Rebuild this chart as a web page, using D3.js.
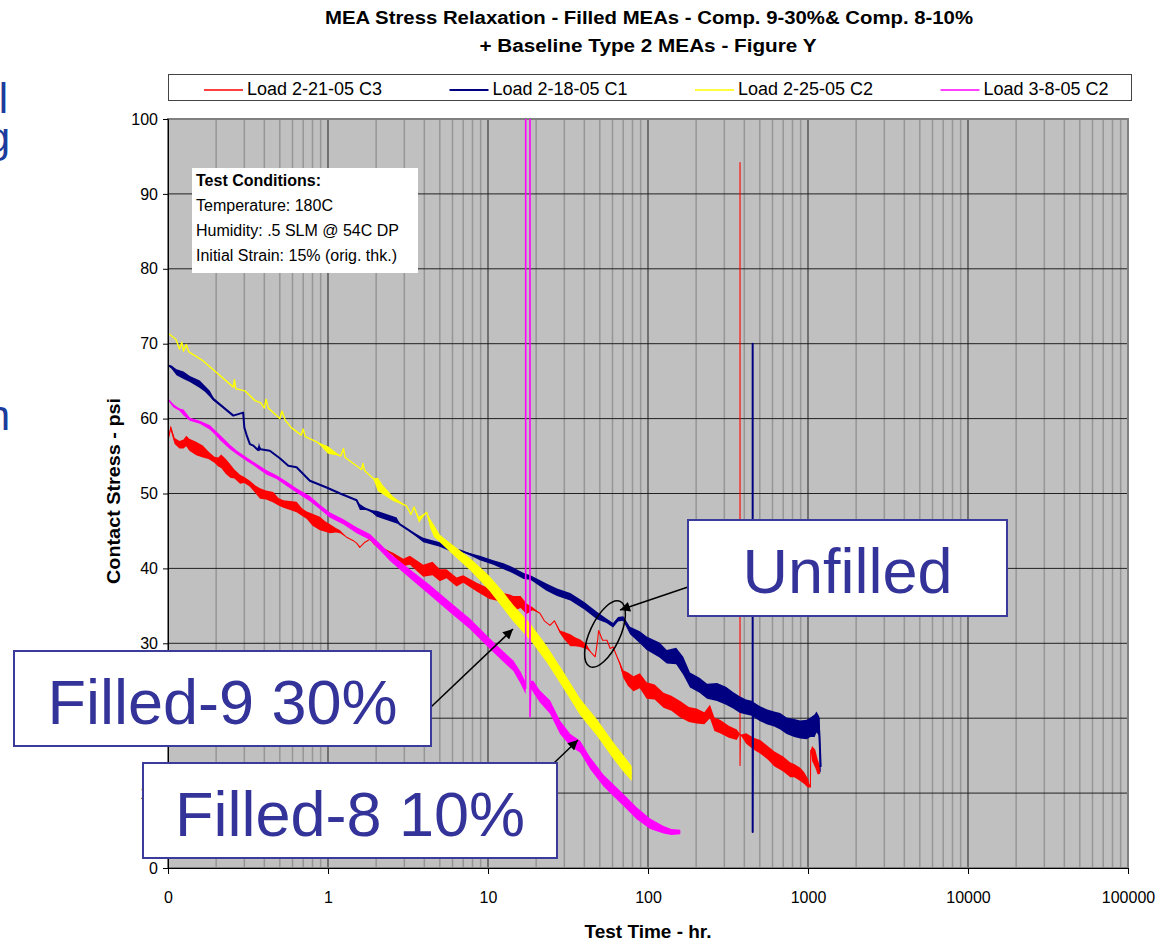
<!DOCTYPE html>
<html>
<head>
<meta charset="utf-8">
<script src="https://cdn.jsdelivr.net/npm/d3@7"></script>
<style>
  body { margin: 0; background: #fff; }
  svg { font-family: "Liberation Sans", Arial, sans-serif; }
</style>
</head>
<body>
<svg id="chart" width="1171" height="940"></svg>
<script>
// [time hr, contact stress psi, noise half-width psi]
var load22105C3 = [
  [0.1, 59.3, 0], [0.101, 57.5, 0], [0.104, 58.8, 0.3], [0.11, 57.0, 0.4], [0.118, 56.5, 0.5],
  [0.125, 56.6, 0.6], [0.13, 57.0, 0.7], [0.136, 56.5, 0.8], [0.15, 56.0, 0.9], [0.165, 55.6, 0.8],
  [0.179, 55.1, 0.5], [0.195, 54.5, 0.4], [0.206, 54.2, 0.6], [0.215, 54.3, 0.9], [0.23, 53.6, 1.0],
  [0.245, 53.0, 0.9], [0.26, 52.6, 0.6], [0.282, 51.9, 0.6], [0.3, 51.8, 0.4], [0.325, 51.3, 0.4],
  [0.35, 50.6, 0.5], [0.376, 50.0, 0.7], [0.41, 49.8, 0.6], [0.455, 49.5, 0.7], [0.49, 48.9, 0.5],
  [0.526, 48.6, 0.5], [0.58, 48.4, 0.6], [0.636, 48.2, 0.7], [0.69, 47.5, 0.5], [0.737, 47.1, 0.5],
  [0.8, 46.5, 0.8], [0.89, 46.0, 0.9], [0.96, 45.6, 0.7], [1.03, 45.3, 0.6], [1.12, 45.1, 0.3],
  [1.19, 44.9, 0.2], [1.3, 44.2, 0], [1.44, 43.7, 0], [1.52, 43.3, 0], [1.58, 42.8, 0],
  [1.7, 43.5, 0], [1.83, 43.9, 0], [1.95, 43.2, 0], [2.1, 42.8, 0], [2.3, 42.5, 0],
  [2.55, 41.9, 0.2], [2.95, 40.8, 0.5], [3.25, 41.1, 0.6], [3.94, 39.7, 0.8], [4.5, 40.0, 0.9],
  [5.0, 39.1, 0.8], [5.5, 39.3, 0.6], [6.36, 38.2, 0.6], [7.0, 38.6, 0.5], [8.5, 37.5, 0.6],
  [10.2, 36.6, 0.7], [11.8, 36.2, 0.6], [13.7, 35.6, 0.9], [14.4, 35.3, 1.0], [16, 35.5, 0.8],
  [17.4, 34.6, 0.7], [19, 34.6, 0.2], [21.1, 34.0, 0], [22.5, 33.0, 0], [24.4, 32.4, 0],
  [26, 33.0, 0], [28.2, 31.5, 0.2], [30, 31.0, 0.5], [32.7, 30.4, 0.8], [35, 30.2, 0.6],
  [37.7, 30.0, 0.5], [41.5, 29.5, 0.3], [44, 28.8, 0], [46.8, 28.2, 0], [48.5, 30.5, 0],
  [49.1, 31.7, 0], [52, 30.4, 0], [55.4, 30.4, 0], [58, 29.3, 0], [60.5, 29.5, 0],
  [64, 28.2, 0], [66.7, 27.3, 0.2], [70, 25.9, 0.5], [75, 25.2, 0.9], [81.1, 24.6, 1.0],
  [88.9, 25.0, 1.0], [98.1, 23.7, 1.1], [110, 23.5, 1.0], [125, 22.4, 1.0], [140, 22.0, 1.0],
  [159, 21.2, 1.1], [180, 20.5, 1.0], [201, 20.3, 1.0], [225, 20.0, 0.8], [244, 20.9, 0.9],
  [260, 19.2, 0.9], [282, 18.9, 0.9], [320, 18.2, 0.8], [359, 17.8, 0.7], [376, 17.9, 0],
  [376, 94.2, 0], [376, 13.7, 0], [378, 17.8, 0], [411, 17.3, 0.7], [458, 16.6, 0.8],
  [502, 16.2, 0.9], [560, 15.4, 0.9], [614, 14.6, 1.0], [700, 13.9, 1.0], [775, 13.1, 1.0],
  [820, 13.0, 0.9], [894, 12.5, 0.9], [947, 12.0, 0.8], [1000, 11.3, 0.6], [1035, 10.8, 0],
  [1040, 15.7, 0], [1060, 15.3, 1.0], [1110, 14.6, 1.2], [1150, 13.5, 1.0], [1190, 13.1, 0.5]
];

var load21805C1 = [
  [0.1, 67.1, 0], [0.105, 66.9, 0.2], [0.113, 66.2, 0.4], [0.125, 65.8, 0.5], [0.137, 65.3, 0.4],
  [0.158, 64.6, 0.5], [0.17, 64.0, 0.4], [0.183, 63.3, 0.4], [0.192, 62.6, 0.2], [0.256, 60.4, 0],
  [0.295, 60.8, 0], [0.3, 58.8, 0], [0.31, 57.8, 0], [0.325, 56.6, 0], [0.341, 56.4, 0],
  [0.365, 55.8, 0], [0.37, 56.2, 0.6], [0.38, 55.9, 0], [0.433, 55.7, 0], [0.5, 54.7, 0],
  [0.565, 53.7, 0], [0.636, 53.5, 0], [0.7, 52.6, 0], [0.77, 51.7, 0], [0.98, 50.8, 0],
  [1.19, 50.0, 0], [1.51, 49.1, 0], [1.58, 48.2, 0.4], [1.8, 47.8, 0], [2.02, 47.3, 0.4],
  [2.69, 46.4, 0.4], [2.8, 45.9, 0], [3.09, 45.3, 0], [3.94, 43.8, 0.3], [5.0, 43.2, 0.3],
  [5.79, 42.6, 0.3], [6.67, 42.4, 0], [8.9, 41.4, 0.3], [10.8, 40.8, 0.3], [12.5, 40.3, 0.4],
  [14.5, 39.7, 0.4], [16.7, 39.0, 0.4], [18.4, 38.8, 0.3], [23.2, 37.5, 0.5], [27, 36.8, 0.5],
  [32.7, 36.2, 0.5], [40, 35.0, 0.5], [47.9, 33.7, 0.5], [55, 33.0, 0.3], [60.5, 32.4, 0.3],
  [65, 33.2, 0.3], [70, 33.3, 0.3], [77.2, 31.7, 0.5], [88.9, 30.8, 0.8], [98.1, 30.0, 0.9],
  [118, 29.1, 1.0], [131, 28.2, 0.9], [150, 28.3, 1.1], [166, 27.0, 1.2], [183, 25.1, 1.0],
  [210, 24.4, 1.0], [234, 23.6, 1.0], [270, 23.5, 1.2], [307, 23.0, 1.2], [340, 22.4, 1.1],
  [376, 21.8, 1.1], [411, 21.5, 1.0], [451, 21.3, 1.0], [451, 70.0, 0], [451, 4.8, 0],
  [453, 21.2, 1.0], [502, 20.6, 1.0], [551, 20.2, 1.0], [614, 19.9, 1.0], [670, 19.6, 1.1],
  [735, 19.0, 1.1], [820, 18.7, 1.2], [894, 18.5, 1.2], [982, 18.5, 1.3], [1035, 18.8, 1.3],
  [1100, 19.0, 1.5], [1130, 19.5, 1.4], [1170, 19.0, 1.3], [1185, 16.5, 3.5], [1200, 13.5, 0.8]
];

var load22505C2 = [
  [0.1, 71.4, 0], [0.112, 70.6, 0], [0.118, 69.3, 0], [0.122, 70.2, 0], [0.125, 69.0, 0],
  [0.13, 69.9, 0], [0.135, 68.9, 0], [0.166, 67.7, 0], [0.256, 64.2, 0], [0.26, 65.2, 0],
  [0.265, 64.0, 0], [0.303, 63.7, 0], [0.35, 62.4, 0], [0.38, 62.1, 0], [0.4, 61.4, 0],
  [0.41, 62.6, 0], [0.424, 61.4, 0], [0.5, 60.0, 0], [0.515, 61.0, 0], [0.54, 59.8, 0],
  [0.59, 58.8, 0], [0.68, 57.8, 0], [0.7, 58.6, 0], [0.72, 57.6, 0], [0.85, 56.9, 0],
  [1.0, 55.8, 0.5], [1.2, 55.0, 0], [1.25, 56.0, 0], [1.28, 54.8, 0], [1.62, 53.2, 0],
  [1.65, 54.0, 0], [1.7, 53.0, 0], [1.92, 52.0, 0], [2.05, 51.2, 0.9], [2.2, 50.5, 0.6],
  [2.55, 49.3, 0.3], [3.1, 48.3, 0], [3.3, 47.2, 0], [3.45, 48.2, 0], [3.7, 46.5, 0.4],
  [4.13, 47.5, 0], [4.35, 46.0, 0.6], [4.6, 45.0, 0.8], [5.0, 44.0, 0.5], [5.8, 42.8, 0.6],
  [6.6, 41.8, 0.7], [7.7, 40.6, 0.8], [8.9, 39.3, 0.9], [10.2, 38.0, 1.0], [12.5, 35.7, 1.1],
  [14.4, 34.0, 1.1], [18.4, 31.5, 1.1], [23.2, 28.6, 1.1], [29.6, 25.1, 1.1], [37.7, 21.5, 1.1],
  [47.8, 18.8, 1.1], [60.7, 15.7, 1.1], [70, 14.0, 1.1], [79.1, 12.6, 1.0]
];

var load3805C2 = [
  [0.1, 62.6, 0], [0.108, 61.7, 0.2], [0.118, 61.2, 0.15], [0.125, 60.8, 0.4], [0.137, 59.9, 0.2],
  [0.158, 59.5, 0.2], [0.183, 58.8, 0.3], [0.2, 58.0, 0.3], [0.211, 57.5, 0.35], [0.244, 56.2, 0.3],
  [0.269, 55.5, 0.25], [0.31, 54.6, 0.25], [0.359, 53.7, 0.25], [0.414, 52.8, 0.3], [0.477, 52.2, 0.25],
  [0.551, 51.3, 0.3], [0.636, 50.4, 0.3], [0.77, 49.3, 0.35], [0.89, 48.2, 0.3], [1.03, 47.1, 0.35],
  [1.25, 46.2, 0.35], [1.51, 45.1, 0.4], [1.83, 44.2, 0.4], [2.1, 42.9, 0.45], [2.44, 41.5, 0.5],
  [3.25, 39.3, 0.6], [4.34, 37.1, 0.7], [5.79, 34.8, 0.7], [7.7, 32.6, 0.7], [10.2, 30.0, 0.7],
  [12.5, 28.2, 0.7], [14.4, 27.0, 0.7], [16.0, 25.4, 0.8], [17.2, 24.0, 0.8], [17.2, 110, 0],
  [18.3, 110, 0], [18.3, 20.2, 0], [18.5, 24.5, 0.5], [19.2, 24.2, 0.8], [21.1, 22.9, 0.8],
  [24.4, 21.5, 0.9], [28.2, 18.8, 0.9], [32.7, 17.1, 0.8], [37.7, 16.2, 0.8], [43.5, 14.0, 0.8],
  [52.6, 11.7, 0.8], [60.5, 10.4, 0.8], [70, 9.1, 0.8], [84.9, 7.3, 0.8], [103, 5.9, 0.7],
  [125, 5.1, 0.5], [140, 4.8, 0.4], [159, 4.8, 0.3]
];

var seriesNames = ["Load 2-21-05 C3", "Load 2-18-05 C1", "Load 2-25-05 C2", "Load 3-8-05 C2"];
var seriesData = [load22105C3, load21805C1, load22505C2, load3805C2];
var seriesColors = ["#ff0000", "#000080", "#ffff00", "#ff00ff"];
var seriesWidths = [1.1, 2, 1.4, 1.6];

var xTickValues = [0.1, 1, 10, 100, 1000, 10000, 100000];
var xTickLabels = ["0", "1", "10", "100", "1000", "10000", "100000"];
var yTickValues = [0, 10, 20, 30, 40, 50, 60, 70, 80, 90, 100];

var conditions = ["Temperature: 180C", "Humidity: .5 SLM @ 54C DP", "Initial Strain: 15% (orig. thk.)"];

var svg = d3.select("#chart");
var plotLeft = 168, plotRight = 1128, plotTop = 119, plotBottom = 868;

var x = d3.scaleLog().domain([0.1, 100000]).range([plotLeft, plotRight]);
var y = d3.scaleLinear().domain([0, 100]).range([plotBottom, plotTop]);

// slide text cut off at the left edge
var slide = svg.append("g").attr("fill", "#1b3c9c").attr("font-size", 42).attr("text-anchor", "end");
slide.append("text").attr("x", 8).attr("y", 113).text("al");
slide.append("text").attr("x", 10).attr("y", 152).text("ing");
slide.append("text").attr("x", 10).attr("y", 430).text("on");

// title
svg.append("text").attr("x", 649).attr("y", 24).attr("text-anchor", "middle")
  .attr("font-weight", "bold").attr("font-size", 18)
  .attr("textLength", 648).attr("lengthAdjust", "spacingAndGlyphs")
  .text("MEA Stress Relaxation - Filled MEAs - Comp. 9-30%& Comp. 8-10%");
svg.append("text").attr("x", 648).attr("y", 52).attr("text-anchor", "middle")
  .attr("font-weight", "bold").attr("font-size", 18)
  .attr("textLength", 337).attr("lengthAdjust", "spacingAndGlyphs")
  .text("+ Baseline Type 2 MEAs - Figure Y");

// legend
var legend = svg.append("g");
legend.append("rect").attr("x", 168.5).attr("y", 74.5).attr("width", 963).attr("height", 26)
  .attr("fill", "#fff").attr("stroke", "#444");
seriesNames.forEach(function (name, i) {
  var lx = 204 + i * 245.5;
  legend.append("line").attr("x1", lx).attr("x2", lx + 39).attr("y1", 90).attr("y2", 90)
    .attr("stroke", seriesColors[i]).attr("stroke-width", i == 1 ? 2 : 1.5);
  legend.append("text").attr("x", lx + 43).attr("y", 94.5).attr("font-size", 18).text(name);
});

// plot area
svg.append("rect").attr("x", plotLeft).attr("y", plotTop)
  .attr("width", plotRight - plotLeft).attr("height", plotBottom - plotTop)
  .attr("fill", "#c0c0c0");

var minorTicks = [];
xTickValues.slice(0, -1).forEach(function (d) {
  for (var k = 2; k < 10; k++) minorTicks.push(d * k);
});

svg.append("g").selectAll("line").data(minorTicks).enter().append("line")
  .attr("x1", function (d) { return x(d); }).attr("x2", function (d) { return x(d); })
  .attr("y1", plotTop).attr("y2", plotBottom)
  .attr("stroke", "#969696").attr("stroke-width", 1.5);

svg.append("g").selectAll("line").data(xTickValues).enter().append("line")
  .attr("x1", function (d) { return x(d); }).attr("x2", function (d) { return x(d); })
  .attr("y1", plotTop).attr("y2", plotBottom)
  .attr("stroke", "#222").attr("stroke-width", 1);

svg.append("g").selectAll("line").data(yTickValues).enter().append("line")
  .attr("x1", plotLeft).attr("x2", plotRight)
  .attr("y1", function (d) { return y(d); }).attr("y2", function (d) { return y(d); })
  .attr("stroke", "#222").attr("stroke-width", 1);

svg.append("rect").attr("x", plotLeft).attr("y", plotTop)
  .attr("width", plotRight - plotLeft).attr("height", plotBottom - plotTop)
  .attr("fill", "none").attr("stroke", "#808080").attr("stroke-width", 2);

// data
svg.append("clipPath").attr("id", "plotClip").append("rect")
  .attr("x", plotLeft).attr("y", plotTop)
  .attr("width", plotRight - plotLeft).attr("height", plotBottom - plotTop);

var band = d3.area()
  .x(function (d) { return x(d[0]); })
  .y0(function (d) { return y(d[1] - d[2]); })
  .y1(function (d) { return y(d[1] + d[2]); });
var line = d3.line()
  .x(function (d) { return x(d[0]); })
  .y(function (d) { return y(d[1]); });

var plot = svg.append("g").attr("clip-path", "url(#plotClip)");
seriesData.forEach(function (data, i) {
  plot.append("path").attr("d", band(data)).attr("fill", seriesColors[i]);
  plot.append("path").attr("d", line(data)).attr("fill", "none")
    .attr("stroke", seriesColors[i]).attr("stroke-width", seriesWidths[i])
    .attr("stroke-linejoin", "round");
});

// axes
var xAxis = d3.axisBottom(x).tickValues(xTickValues)
  .tickFormat(function (d, i) { return xTickLabels[i]; })
  .tickSize(6).tickPadding(18);
svg.append("g").attr("transform", "translate(0," + plotBottom + ")").call(xAxis)
  .attr("font-size", 16).attr("font-family", null);

var yAxis = d3.axisLeft(y).tickValues(yTickValues).tickSize(5).tickPadding(5);
svg.append("g").attr("transform", "translate(" + plotLeft + ",0)").call(yAxis)
  .attr("font-size", 16).attr("font-family", null);

svg.selectAll(".domain, .tick line").attr("stroke", "#000");

svg.append("text").attr("x", 648).attr("y", 938).attr("text-anchor", "middle")
  .attr("font-weight", "bold").attr("font-size", 18)
  .attr("textLength", 127).attr("lengthAdjust", "spacingAndGlyphs")
  .text("Test Time - hr.");
svg.append("text").attr("transform", "translate(120,491) rotate(-90)").attr("text-anchor", "middle")
  .attr("font-weight", "bold").attr("font-size", 18)
  .attr("textLength", 186).attr("lengthAdjust", "spacingAndGlyphs")
  .text("Contact Stress - psi");

// test conditions box
var cond = svg.append("g");
cond.append("rect").attr("x", 192).attr("y", 168).attr("width", 226).attr("height", 105).attr("fill", "#fff");
cond.append("text").attr("x", 196).attr("y", 186).attr("font-size", 16).attr("font-weight", "bold")
  .text("Test Conditions:");
conditions.forEach(function (c, i) {
  cond.append("text").attr("x", 196).attr("y", 211 + i * 25).attr("font-size", 16).text(c);
});

// annotations
svg.append("defs").append("marker").attr("id", "arrowHead")
  .attr("viewBox", "0 0 10 10").attr("refX", 10).attr("refY", 5)
  .attr("markerUnits", "userSpaceOnUse").attr("markerWidth", 15).attr("markerHeight", 10)
  .attr("orient", "auto")
  .append("path").attr("d", "M0,0L10,5L0,10z").attr("fill", "#000");

svg.append("ellipse").attr("cx", 0).attr("cy", 0).attr("rx", 15).attr("ry", 36)
  .attr("transform", "translate(605,634) rotate(25)")
  .attr("fill", "none").attr("stroke", "#000").attr("stroke-width", 1.5);

var arrows = [
  [688, 587, 620, 610],
  [431, 707, 513, 629],
  [554, 763, 578, 740]
];
svg.append("g").selectAll("line").data(arrows).enter().append("line")
  .attr("x1", function (d) { return d[0]; }).attr("y1", function (d) { return d[1]; })
  .attr("x2", function (d) { return d[2]; }).attr("y2", function (d) { return d[3]; })
  .attr("stroke", "#000").attr("stroke-width", 1.5).attr("marker-end", "url(#arrowHead)");

var labels = [
  { text: "Unfilled", x: 688, y: 520, w: 319, h: 96 },
  { text: "Filled-9 30%", x: 14, y: 651, w: 417, h: 95 },
  { text: "Filled-8 10%", x: 143, y: 763, w: 414, h: 95 }
];
labels.forEach(function (d) {
  svg.append("rect").attr("x", d.x).attr("y", d.y).attr("width", d.w).attr("height", d.h)
    .attr("fill", "#fff").attr("stroke", "#3b3b9c").attr("stroke-width", 2);
  svg.append("text").attr("x", d.x + d.w / 2).attr("y", d.y + 73).attr("text-anchor", "middle")
    .attr("font-size", 63).attr("fill", "#333399").text(d.text);
});
</script>
</body>
</html>
